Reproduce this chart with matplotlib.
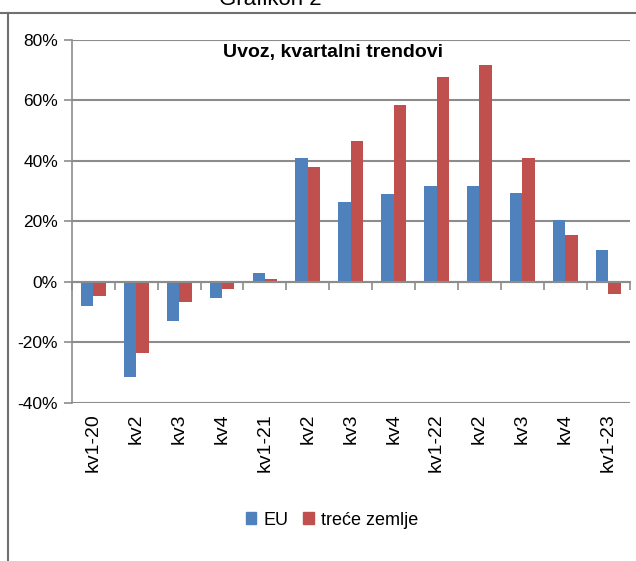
import matplotlib.pyplot as plt
import numpy as np
from matplotlib.lines import Line2D
from matplotlib.patches import Patch

plt.rcParams['font.family'] = ['Liberation Sans', 'DejaVu Sans']

categories = ['kv1-20', 'kv2', 'kv3', 'kv4', 'kv1-21', 'kv2', 'kv3', 'kv4',
              'kv1-22', 'kv2', 'kv3', 'kv4', 'kv1-23']
eu = [-8.0, -31.4, -13.0, -5.3, 3.0, 40.8, 26.5, 29.0, 31.7, 31.7, 29.2, 20.5, 10.5]
trece = [-4.6, -23.5, -6.6, -2.3, 1.0, 38.0, 46.5, 58.5, 67.7, 71.7, 41.0, 15.5, -4.0]
yticks = [-40, -20, 0, 20, 40, 60, 80]

blue = '#4F81BD'
red = '#C0504D'
grid_c = '#8C8C8C'

fig = plt.figure(figsize=(6.36, 5.61), dpi=100)
ax = fig.add_axes([0.113, 0.282, 0.877, 0.647])

x = np.arange(len(categories))
w = 0.29
ax.bar(x - w / 2, eu, w, color=blue, zorder=3)
ax.bar(x + w / 2, trece, w, color=red, zorder=3)

ax.set_xlim(-0.5, len(categories) - 0.5)
ax.set_ylim(-40, 80)
ax.set_yticks(yticks)
ax.set_yticklabels([f'{v}%' for v in yticks], fontsize=12.5)
ax.yaxis.grid(True, color=grid_c, linewidth=1.5, zorder=0)
ax.tick_params(axis='y', length=6, color=grid_c, width=1.2, pad=4)

for loc in ['top', 'right']:
    ax.spines[loc].set_visible(False)
ax.spines['left'].set_color(grid_c)
ax.spines['left'].set_linewidth(1.2)
ax.spines['bottom'].set_position(('data', 0))
ax.spines['bottom'].set_color(grid_c)
ax.spines['bottom'].set_linewidth(1.5)
ax.spines['bottom'].set_zorder(4)

# category separators on the zero line
ax.set_xticks([])
ax.set_xticks(np.arange(len(categories) + 1) - 0.5, minor=True)
ax.tick_params(axis='x', which='minor', length=6, color=grid_c, width=1.2, direction='out')
ax.tick_params(axis='x', which='major', length=0)

for xi, lab in zip(x, categories):
    ax.text(xi, -0.03, lab, transform=ax.get_xaxis_transform(), rotation=90,
            ha='center', va='top', fontsize=14)

ax.text(0.468, 0.965, 'Uvoz, kvartalni trendovi', transform=ax.transAxes,
        ha='center', va='center', fontsize=14, fontweight='bold', zorder=5)

handles = [Patch(color=blue, label='EU'), Patch(color=red, label='treće zemlje')]
fig.legend(handles=handles, loc='center', bbox_to_anchor=(0.522, 0.073), ncol=2,
           frameon=False, fontsize=13, handlelength=0.6, handleheight=0.6,
           handletextpad=0.4, columnspacing=0.8)

# outer frame and clipped caption
fig.add_artist(Line2D([0.0, 1.0], [0.977, 0.977], color='#707070', linewidth=1.5))
fig.add_artist(Line2D([0.013, 0.013], [0.0, 0.977], color='#707070', linewidth=1.5))
fig.text(0.425, 0.983, 'Grafikon 2', ha='center', va='bottom', fontsize=16)

plt.savefig('out.png', dpi=100)
